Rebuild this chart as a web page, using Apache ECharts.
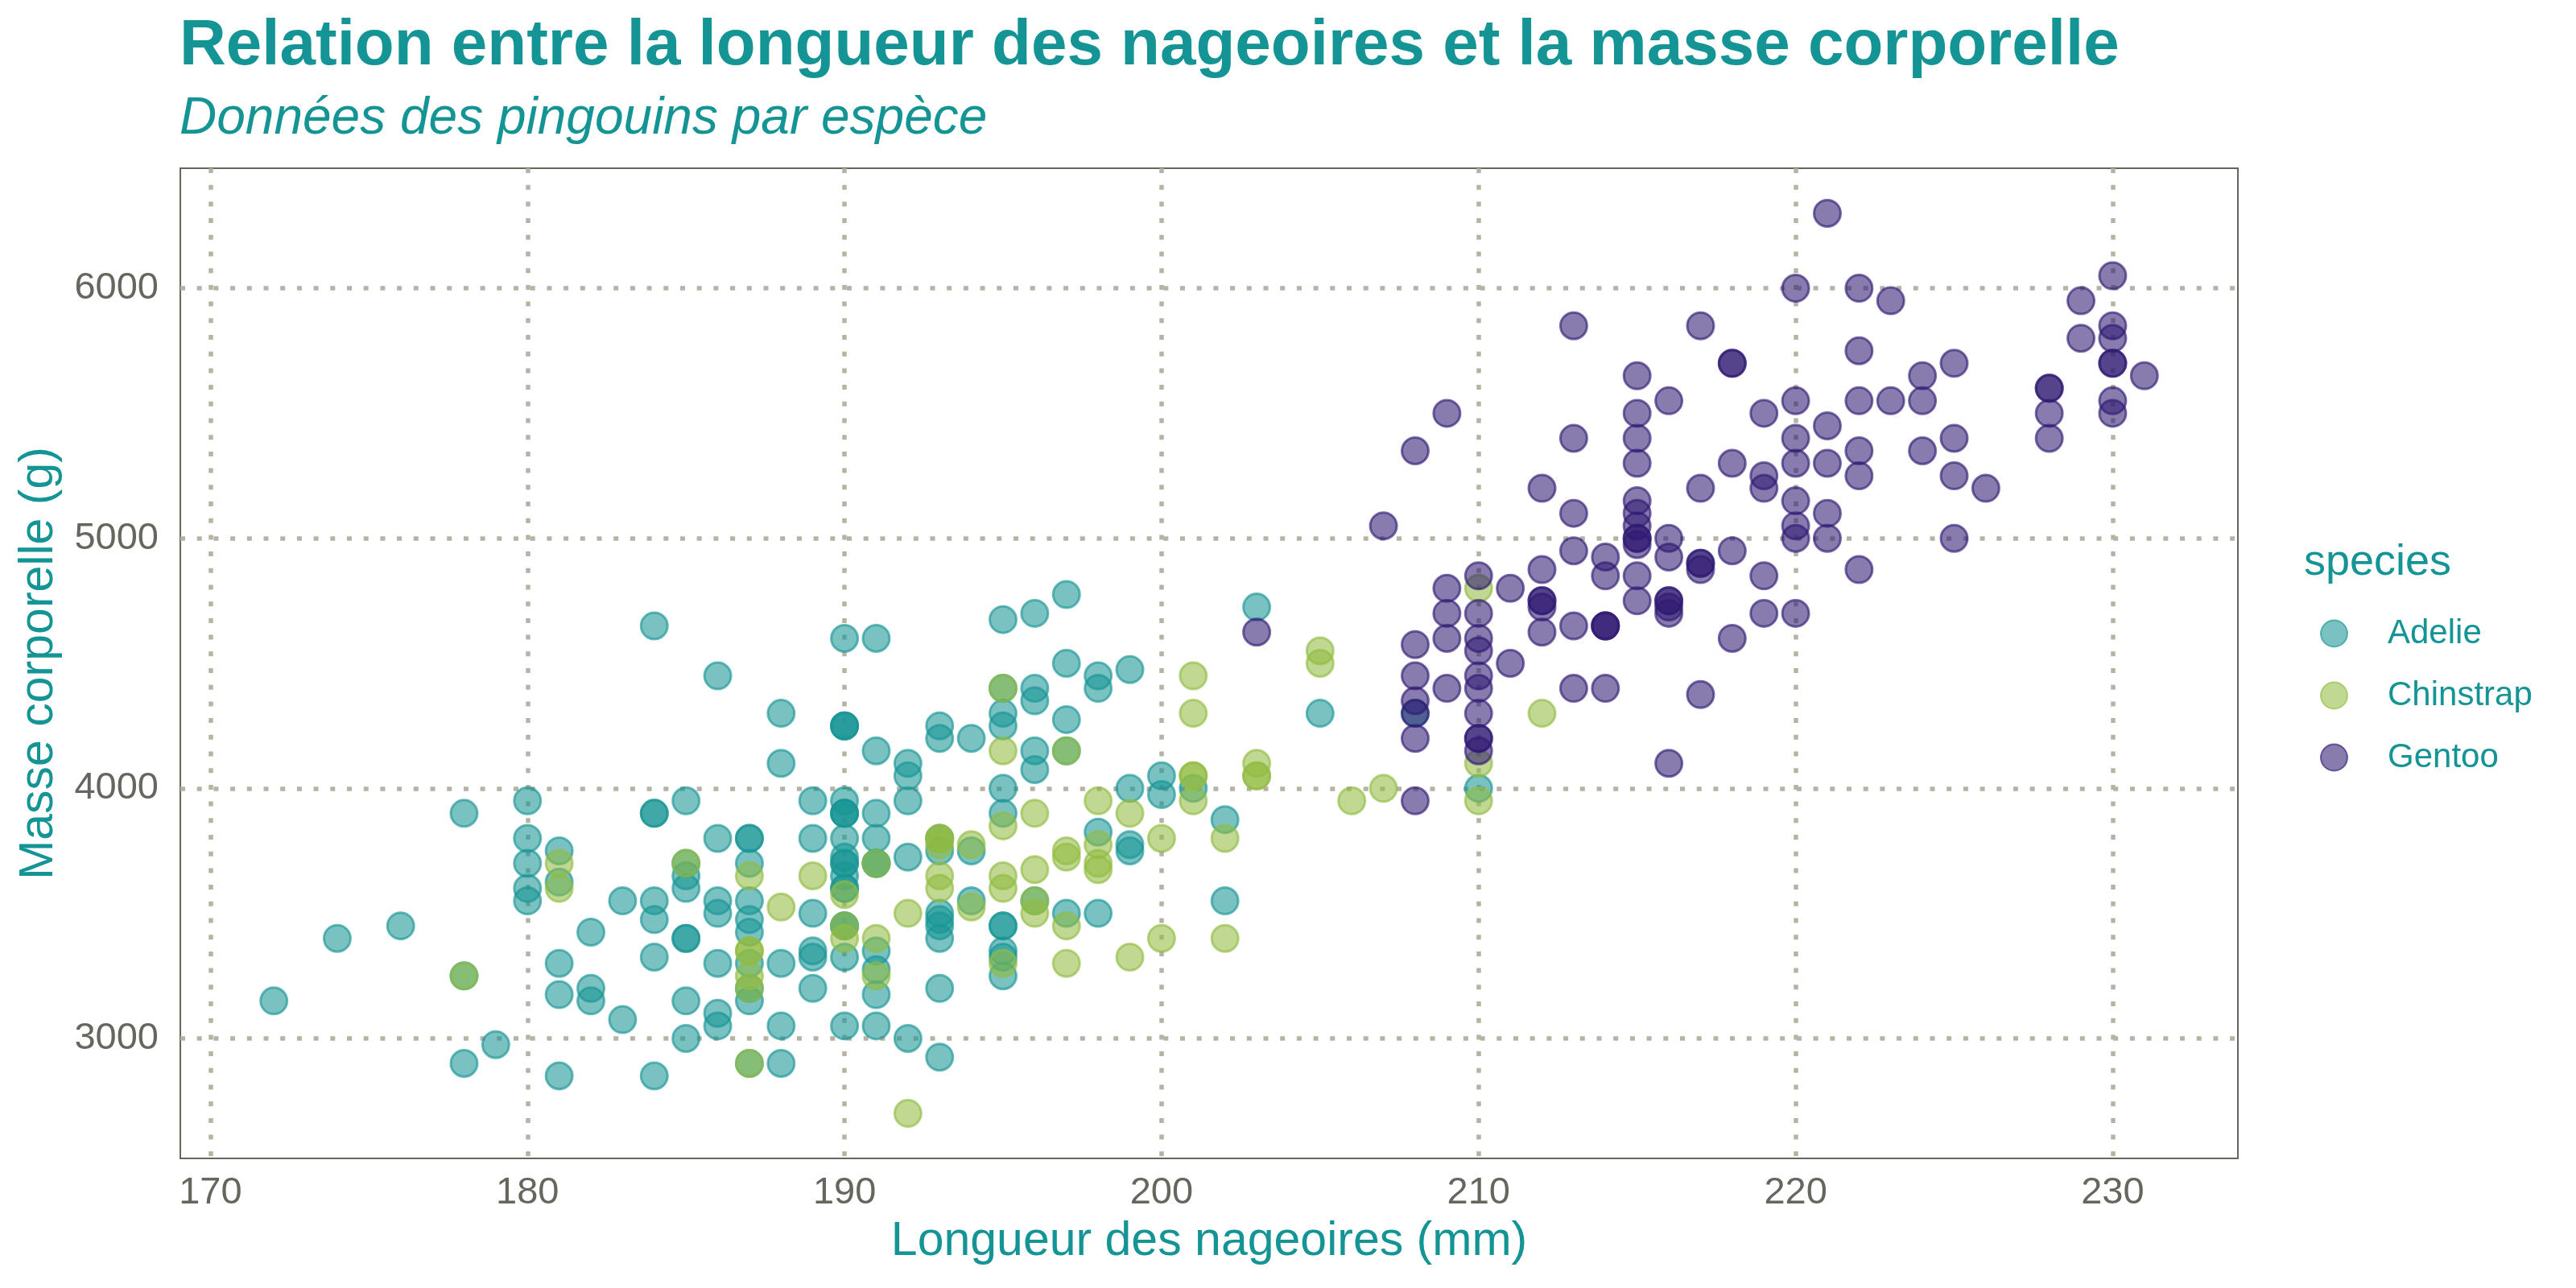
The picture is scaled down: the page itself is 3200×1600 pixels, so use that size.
<!DOCTYPE html>
<html>
<head>
<meta charset="utf-8">
<title>Pingouins</title>
<script src="https://cdn.jsdelivr.net/npm/echarts@6/dist/echarts.min.js"></script>
<style>
  html, body { margin: 0; padding: 0; background: #fff; }
  #chart { width: 3200px; height: 1600px; }
</style>
</head>
<body>
<div id="chart"></div>
<script>
// [longueur des nageoires (mm), masse corporelle (g)]
const adelie = [
  [181,3750],[186,3800],[195,3250],[193,3450],[190,3650],[181,3625],[195,4675],[193,3475],[190,4250],[186,3300],
  [180,3700],[182,3200],[191,3800],[198,4400],[185,3700],[195,3450],[197,4500],[184,3325],[194,4200],
  [174,3400],[180,3600],[189,3800],[185,3950],[180,3800],[187,3800],[183,3550],[187,3200],[172,3150],[180,3950],
  [178,3250],[178,3900],[188,3300],[184,3900],[195,3325],[196,4150],[190,3950],[180,3550],[181,3300],[184,4650],
  [182,3150],[195,3900],[186,3100],[196,4400],[185,3000],[190,4600],[182,3425],[179,2975],[190,3450],[191,4150],
  [186,3500],[188,4300],[190,3450],[200,4050],[187,2900],[191,3700],[186,3550],[193,3800],[181,2850],[194,3750],
  [185,3150],[195,4400],[185,3600],[192,4050],[184,2850],[192,3950],[195,3350],[188,4100],
  [190,3050],[198,4450],[190,3600],[190,3900],[196,3550],[197,4150],[190,3700],[195,4250],[191,3700],[184,3900],
  [187,3550],[195,4000],[189,3200],[196,4700],[187,3800],[193,4200],[191,3350],[194,3550],[190,3800],[189,3500],
  [189,3950],[190,3600],
  [202,3550],[205,4300],[185,3400],[186,4450],[187,3300],[208,4300],[190,3700],[196,4350],[178,2900],[192,4100],
  [192,3725],[203,4725],[183,3075],[190,4250],[193,2925],[184,3550],[199,3750],[190,3900],[181,3175],[197,4775],
  [198,3825],[191,4600],[193,3200],[197,4275],[191,3900],[196,4075],[188,2900],[199,3775],
  [189,3350],[189,3325],[187,3150],[198,3500],[176,3450],[202,3875],[186,3050],[199,4000],[191,3275],[195,4300],
  [191,3050],[210,4000],[190,3325],[197,3500],
  [193,3500],[199,4475],[187,3425],[190,3900],[191,3175],[200,3975],[185,3400],[193,4250],[193,3400],[187,3475],
  [188,3050],[190,3725],[192,3000],[185,3650],[190,4250],[184,3475],[195,3450],[193,3750],[187,3700],[201,4000]
];

const chinstrap = [
  [192,3500],[196,3900],[193,3650],[188,3525],[197,3725],[198,3950],[178,3250],[197,3750],[195,4150],[198,3700],
  [193,3800],[194,3775],[185,3700],[201,4050],[190,3575],[201,4050],[197,3300],[181,3700],[190,3450],[195,4400],
  [181,3600],[191,3400],[187,2900],[193,3800],[195,3300],[197,4150],
  [200,3400],[200,3800],[191,3700],[205,4550],[187,3200],[201,4300],[187,3350],[203,4100],[195,3600],[199,3900],
  [195,3850],[210,4800],[192,2700],[205,4500],[210,3950],[187,3650],[196,3550],[196,3500],[196,3675],[201,4450],
  [190,3400],[212,4300],[187,3250],[198,3675],[199,3325],[201,3950],[193,3600],[203,4050],[187,3350],[197,3450],
  [191,3250],[203,4050],[202,3800],[194,3525],[206,3950],[189,3650],[195,3650],[207,4000],[202,3400],[193,3775],
  [210,4100],[198,3775]
];

const gentoo = [
  [211,4500],[230,5700],[210,4450],[218,5700],[215,5400],[210,4550],[211,4800],[219,5200],[209,4400],[215,5150],
  [214,4650],[216,5550],[214,4650],[213,5850],[210,4200],[217,5850],[210,4150],[221,6300],[209,4800],[222,5350],
  [218,5700],[215,5000],[213,4400],[215,5050],[215,5000],[215,5100],[216,4100],[215,5650],[210,4600],[220,5550],
  [222,5250],[209,4700],[207,5050],[230,6050],[220,5150],[220,5400],[213,4950],[219,5250],[208,4350],[208,5350],
  [208,3950],[225,5700],[210,4300],[216,4750],[222,5550],[217,4900],[210,4200],[225,5400],[213,5100],[215,5300],
  [210,4850],[220,5300],[210,4400],[225,5000],[217,4900],[220,5050],[208,4300],[220,5000],[208,4450],[224,5550],
  [208,4200],[221,5300],[214,4400],[231,5650],[219,4700],[230,5700],[214,4650],[229,5800],[220,4700],[223,5550],
  [216,4750],[221,5000],[221,5100],[217,5200],[216,4700],[230,5800],[209,4600],[220,6000],[215,4750],[223,5950],
  [212,4625],[221,5450],[212,4725],[224,5350],[212,4750],[228,5600],[218,4600],[218,5300],[212,4875],[230,5550],
  [218,4950],[228,5400],[212,4750],[224,5650],[214,4850],[226,5200],[216,4925],[222,4875],[203,4625],[225,5250],
  [219,4850],[228,5600],[215,4975],[228,5500],[216,4725],[215,5500],[210,4700],[219,5500],[208,4575],[209,5500],
  [216,5000],[229,5950],[213,4650],[230,5500],[217,4375],[230,5850],[217,4875],[222,6000],[214,4925],[215,4850],
  [222,5750],[212,5200],[213,5400]
];

const speciesNames = ['Adelie', 'Chinstrap', 'Gentoo'];
const speciesRgb = ['25,149,149', '145,188,65', '48,26,115'];
const speciesData = [adelie, chinstrap, gentoo];

const TEAL = '#149494';
const GREY = '#66665E';
const GRID = '#B6B2A4';
const FONT = '"Liberation Sans", Arial, sans-serif';

const chart = echarts.init(document.getElementById('chart'), null, { renderer: 'canvas' });

const series = speciesNames.map((name, i) => ({
    name: name,
    type: 'scatter',
    data: speciesData[i],
    symbol: 'circle',
    symbolSize: 33,
    itemStyle: {
        color: 'rgba(' + speciesRgb[i] + ',0.72)',
        borderColor: 'rgba(' + speciesRgb[i] + ',0.8)',
        borderWidth: 3
    },
    emphasis: { disabled: true }
}));

const option = {
    animation: false,
    backgroundColor: '#fff',
    textStyle: { fontFamily: FONT },
    title: [{
        text: 'Relation entre la longueur des nageoires et la masse corporelle',
        left: 223, top: 18, padding: 0,
        textStyle: { fontFamily: FONT, fontSize: 80, fontWeight: 'bold', color: TEAL }
    }, {
        text: 'Données des pingouins par espèce',
        left: 223, top: 116, padding: 0,
        textStyle: { fontFamily: FONT, fontSize: 64, fontStyle: 'italic', fontWeight: 'normal', color: TEAL }
    }, {
        text: 'species',
        left: 2862, top: 672, padding: 0,
        textStyle: { fontFamily: FONT, fontSize: 54, fontWeight: 'normal', color: TEAL }
    }],
    legend: {
        data: speciesNames,
        orient: 'vertical',
        left: 2882, top: 766, padding: 0,
        icon: 'circle',
        itemWidth: 33, itemHeight: 33, itemGap: 35,
        textStyle: { fontFamily: FONT, fontSize: 42, color: TEAL, lineHeight: 33, padding: [0, 0, 0, 45] }
    },
    grid: {
        left: 224, right: 420, top: 209, bottom: 161,
        show: true, borderColor: GREY, borderWidth: 2, backgroundColor: '#fff'
    },
    xAxis: {
        type: 'value',
        min: 169.05, max: 233.95,
        name: 'Longueur des nageoires (mm)',
        nameLocation: 'middle', nameGap: 74,
        nameTextStyle: { fontFamily: FONT, fontSize: 59, color: TEAL },
        axisLine: { show: false },
        axisTick: { show: false },
        axisLabel: { fontSize: 47, color: GREY, margin: 20, showMinLabel: false, showMaxLabel: false },
        splitLine: { show: true, showMinLine: false, showMaxLine: false,
            lineStyle: { color: GRID, width: 5.5, type: [6, 14.7] } }
    },
    yAxis: {
        type: 'value',
        min: 2520, max: 6480,
        name: 'Masse corporelle (g)',
        nameLocation: 'middle', nameGap: 146, nameRotate: 90,
        nameTextStyle: { fontFamily: FONT, fontSize: 59, color: TEAL },
        axisLine: { show: false },
        axisTick: { show: false },
        axisLabel: { fontSize: 47, color: GREY, margin: 27, showMinLabel: false, showMaxLabel: false,
            formatter: v => String(v) },
        splitLine: { show: true, showMinLine: false, showMaxLine: false,
            lineStyle: { color: GRID, width: 5.5, type: [6, 14.7] } }
    },
    series: series
};

chart.setOption(option);
window.addEventListener('resize', () => chart.resize());
</script>
</body>
</html>
